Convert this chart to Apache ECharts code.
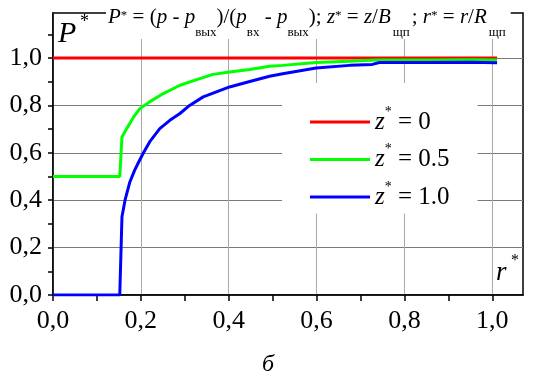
<!DOCTYPE html>
<html>
<head>
<meta charset="utf-8">
<script src="https://cdn.jsdelivr.net/npm/echarts@6/dist/echarts.min.js"></script>
<style>
  html, body { margin: 0; padding: 0; background: #fff; }
  #chart { width: 536px; height: 375px; }
</style>
</head>
<body>
<div id="chart"></div>
<script>
// r* values and P* values for each curve
const rZ0 = [0, 1.011]
const pZ0 = [1.0, 1.0]

const rZ05 = [0, 0.152, 0.157, 0.167, 0.175, 0.185, 0.198, 0.22, 0.251, 0.289, 0.327, 0.364, 0.402, 0.448, 0.493, 0.523, 0.599, 0.675, 0.736, 0.85, 0.95, 1.011]
const pZ05 = [0.5, 0.5, 0.667, 0.70, 0.725, 0.755, 0.787, 0.815, 0.85, 0.885, 0.909, 0.931, 0.941, 0.952, 0.965, 0.969, 0.981, 0.986, 0.992, 0.992, 0.993, 0.992]

const rZ1 = [0, 0.152, 0.157, 0.164, 0.175, 0.186, 0.194, 0.205, 0.22, 0.243, 0.266, 0.289, 0.311, 0.342, 0.372, 0.402, 0.448, 0.493, 0.523, 0.599, 0.675, 0.727, 0.743, 0.85, 0.95, 1.011]
const pZ1 = [0, 0, 0.33, 0.40, 0.477, 0.527, 0.557, 0.597, 0.646, 0.702, 0.737, 0.766, 0.80, 0.836, 0.857, 0.878, 0.901, 0.923, 0.934, 0.958, 0.969, 0.973, 0.981, 0.981, 0.982, 0.98]

const xLabelTicks = [0, 0.2, 0.4, 0.6, 0.8, 1.0]
const xMinorTicks = [0, 0.1, 0.2, 0.3, 0.4, 0.5, 0.6, 0.7, 0.8, 0.9, 1.0]
const yLabelTicks = [0, 0.2, 0.4, 0.6, 0.8, 1.0]
const yMinorTicks = [0, 0.1, 0.2, 0.3, 0.4, 0.5, 0.6, 0.7, 0.8, 0.9, 1.0, 1.1]

const seriesNames = ['z0', 'z05', 'z1']
const legendLabels = { z0: '0', z05: '0.5', z1: '1.0' }

const FONT = '"Liberation Serif"'
const toPairs = (xs, ys) => xs.map((x, i) => [x, ys[i]])
const comma = v => v.toFixed(1).replace('.', ',')

const chart = echarts.init(document.getElementById('chart'))

const titleText =
  '{i|P}{sup|*}{n| = (}{i|p}{n| - }{i|p}{sub|вых}{n|)/(}{i|p}{sub|вх}{n| - }{i|p}{sub|вых}{n|); }' +
  '{i|z}{sup|*}{n| = }{i|z}{n|/}{i|B}{subs|щп}{n|; }{i|r}{sup|*}{n| = }{i|r}{n|/}{i|R}{subs|щп}'

const txt = (size, extra) => Object.assign({ fontFamily: FONT, fontSize: size, fontWeight: 'normal', color: '#000' }, extra)

const option = {
  animation: false,
  textStyle: { fontFamily: FONT },
  title: {
    text: titleText,
    left: 106,
    top: 5,
    padding: [0, 3, 0, 2],
    backgroundColor: '#fff',
    textStyle: {
      fontWeight: 'normal',
      fontFamily: FONT,
      rich: {
        i: txt(21, { fontStyle: 'italic', lineHeight: 24 }),
        n: txt(21, { lineHeight: 24 }),
        sup: txt(13, { lineHeight: 12, verticalAlign: 'top', padding: [4, 0, 0, 0] }),
        sub: txt(13, { lineHeight: 12, verticalAlign: 'top', padding: [21, 0, 0, 0] }),
        subs: txt(13, { lineHeight: 12, width: 19, align: 'left', verticalAlign: 'top', padding: [21, 0, 0, 2] })
      }
    }
  },
  legend: {
    data: seriesNames,
    orient: 'vertical',
    left: 282,
    top: 83,
    padding: [22, 28, 4, 28],
    itemGap: 8,
    itemWidth: 60,
    itemHeight: 3,
    icon: 'rect',
    backgroundColor: '#fff',
    formatter: name => '{z|z}{s|*}{n| = ' + legendLabels[name] + '}',
    textStyle: {
      fontFamily: FONT,
      rich: {
        z: txt(25, { fontStyle: 'italic', lineHeight: 34 }),
        n: txt(25, { lineHeight: 34 }),
        s: txt(14, { lineHeight: 12, verticalAlign: 'top' })
      }
    }
  },
  grid: {
    left: 53,
    right: 13,
    top: 13,
    bottom: 80,
    show: true,
    borderColor: '#000',
    borderWidth: 1.5
  },
  xAxis: [
    {
      type: 'value',
      min: 0,
      max: 1.07,
      interval: 0.2,
      axisLine: { lineStyle: { color: '#000', width: 1.5 } },
      axisTick: { show: false, customValues: xLabelTicks },
      axisLabel: {
        customValues: xLabelTicks,
        formatter: comma,
        margin: 13,
        fontFamily: FONT,
        fontSize: 26,
        color: '#000'
      },
      splitLine: { show: true, lineStyle: { color: '#a8a8a8', width: 1 } }
    },
    {
      type: 'value',
      position: 'bottom',
      min: 0,
      max: 1.07,
      interval: 0.1,
      axisLine: { show: false },
      axisTick: { show: true, length: 6, customValues: xMinorTicks, lineStyle: { color: '#000', width: 1.5 } },
      axisLabel: { show: false },
      splitLine: { show: false }
    }
  ],
  yAxis: [
    {
      type: 'value',
      min: 0,
      max: 1.19,
      interval: 0.2,
      axisLine: { show: true, lineStyle: { color: '#000', width: 1.5 } },
      axisTick: { show: false, customValues: yLabelTicks },
      axisLabel: {
        customValues: yLabelTicks,
        formatter: comma,
        margin: 11,
        fontFamily: FONT,
        fontSize: 26,
        color: '#000'
      },
      splitLine: { show: true, lineStyle: { color: '#7a7a7a', width: 1 } }
    },
    {
      type: 'value',
      position: 'left',
      min: 0,
      max: 1.19,
      interval: 0.1,
      axisLine: { show: false },
      axisTick: { show: true, length: 5, customValues: yMinorTicks, lineStyle: { color: '#000', width: 1.5 } },
      axisLabel: { show: false },
      splitLine: { show: false }
    }
  ],
  graphic: [
    { type: 'text', z: 100, style: { text: 'P', x: 58, y: 34, verticalAlign: 'middle', font: 'italic 30px "Liberation Serif"', fill: '#000' } },
    { type: 'text', z: 100, style: { text: '*', x: 80, y: 22, verticalAlign: 'middle', font: '18px "Liberation Serif"', fill: '#000' } },
    { type: 'text', z: 100, style: { text: 'r', x: 496, y: 273, verticalAlign: 'middle', font: 'italic 27px "Liberation Serif"', fill: '#000' } },
    { type: 'text', z: 100, style: { text: '*', x: 511, y: 261, verticalAlign: 'middle', font: '16px "Liberation Serif"', fill: '#000' } },
    { type: 'text', z: 100, style: { text: 'б', x: 268, y: 365, align: 'center', verticalAlign: 'middle', font: 'italic 24px "Liberation Serif"', fill: '#000' } }
  ],
  series: [
    {
      name: 'z0',
      type: 'line',
      data: toPairs(rZ0, pZ0),
      showSymbol: false,
      lineStyle: { color: '#ff0000', width: 3 },
      itemStyle: { color: '#ff0000' }
    },
    {
      name: 'z05',
      type: 'line',
      data: toPairs(rZ05, pZ05),
      showSymbol: false,
      lineStyle: { color: '#00ff00', width: 3 },
      itemStyle: { color: '#00ff00' }
    },
    {
      name: 'z1',
      type: 'line',
      data: toPairs(rZ1, pZ1),
      showSymbol: false,
      lineStyle: { color: '#0000ff', width: 3 },
      itemStyle: { color: '#0000ff' }
    }
  ]
}

chart.setOption(option)
</script>
</body>
</html>
